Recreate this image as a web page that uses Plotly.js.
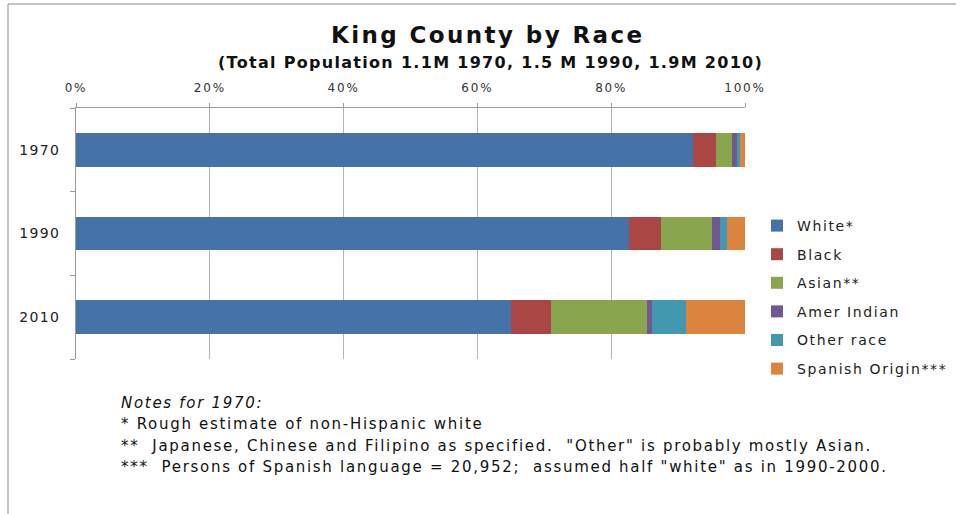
<!DOCTYPE html>
<html><head><meta charset="utf-8">
<script src="https://cdn.plot.ly/plotly-3.0.1.min.js"></script>
<style>html,body{margin:0;padding:0;background:#fff}#c{width:960px;height:514px}</style>
</head><body><div id="c"></div>
<script>
const years = ['1970', '1990', '2010'];
const seriesNames = ['White*', 'Black', 'Asian**', 'Amer Indian', 'Other race', 'Spanish Origin***'];
const white = [92.3, 82.6, 65.0];
const black = [3.4, 4.9, 6.0];
const asian = [2.4, 7.6, 14.4];
const amerIndian = [0.7, 1.2, 0.7];
const otherRace = [0.4, 1.0, 5.1];
const spanish = [0.8, 2.7, 8.8];
const xTickVals = [0, 20, 40, 60, 80, 100];
const xTickText = ['0%', '20%', '40%', '60%', '80%', '100%'];
const titleText = 'King County by Race';
const subtitleText = '(Total Population 1.1M 1970, 1.5 M 1990, 1.9M 2010)';
const notes = ['<i>Notes for 1970:</i>',
  '* Rough estimate of non-Hispanic white',
  '** &nbsp;Japanese, Chinese and Filipino as specified. &nbsp;"Other" is probably mostly Asian.',
  '*** &nbsp;Persons of Spanish language = 20,952; &nbsp;assumed half "white" as in 1990-2000.'];

const sp = (t, ls) => '<span style="letter-spacing:' + ls + 'px">' + t + '</span>';
const colors = ['#4572A7', '#AA4643', '#89A54E', '#71588F', '#4198AF', '#DB843D'];
const values = [white, black, asian, amerIndian, otherRace, spanish];
const traces = values.map((v, i) => ({
  type: 'bar', orientation: 'h', name: sp(seriesNames[i], 1.6), x: v, y: years,
  legendgroup: 'g' + i,
  marker: {color: colors[i], line: {width: 0}}, hoverinfo: 'x+name'
}));

const W = 960, H = 514, L = 76, R = 215, T = 108, B = 155;
const pw = W - L - R, ph = H - T - B;
const px = x => (x - L) / pw;
const py = y => (H - B - y) / ph;
const font = '"DejaVu Sans", Verdana, sans-serif';

const noteYs = [403, 424, 446, 467];
const annotations = [
  {text: '<b>' + sp(titleText, 2.4) + '</b>', xref: 'paper', yref: 'paper', x: px(329), y: py(35),
    xanchor: 'left', yanchor: 'middle', showarrow: false, font: {size: 23, color: '#111', family: font}},
  {text: '<b>' + sp(subtitleText, 1.3) + '</b>', xref: 'paper', yref: 'paper', x: px(216), y: py(63),
    xanchor: 'left', yanchor: 'middle', showarrow: false, font: {size: 16, color: '#111', family: font}}
];
notes.forEach((n, i) => annotations.push({
  text: sp(n, 1.7), xref: 'paper', yref: 'paper', x: px(119), y: py(noteYs[i]),
  xanchor: 'left', yanchor: 'middle', align: 'left', showarrow: false,
  font: {size: 15, color: '#111', family: font}
}));

const layout = {
  width: W, height: H, margin: {l: L, r: R, t: T, b: B, autoexpand: false},
  paper_bgcolor: '#fff', plot_bgcolor: '#fff',
  barmode: 'stack', bargap: 0.6, showlegend: true,
  font: {family: font, color: '#333'},
  xaxis: {side: 'top', range: [0, 100], tickvals: xTickVals, ticktext: xTickText.map(t => sp(t, 1.8)),
    showgrid: true, gridcolor: '#b4b4b4', gridwidth: 1, zeroline: false,
    showline: true, linecolor: '#9a9a9a', ticks: 'outside', ticklen: 4, tickcolor: '#9a9a9a',
    ticklabelstandoff: 6, automargin: false,
    tickfont: {size: 12, color: '#333', family: font}, fixedrange: true},
  yaxis: {type: 'category', autorange: 'reversed', showgrid: false, zeroline: false,
    showline: true, linecolor: '#9a9a9a', ticks: 'outside', tickson: 'boundaries', ticklen: 5,
    tickcolor: '#9a9a9a', tickfont: {size: 14, color: '#222', family: font}, ticklabelstandoff: 12,
    automargin: false,
    tickmode: 'array', tickvals: years, ticktext: years.map(t => sp(t, 1.3)), fixedrange: true},
  legend: {x: px(757), y: py(210), xanchor: 'left', yanchor: 'top', traceorder: 'grouped',
    font: {size: 14, color: '#222', family: font}, tracegroupgap: 7.4, itemwidth: 30,
    bgcolor: 'rgba(0,0,0,0)'},
  annotations: annotations,
  shapes: [
    {type: 'line', xref: 'paper', yref: 'paper', x0: px(8), x1: px(956), y0: py(4), y1: py(4),
      line: {color: '#8a8a8a', width: 1}, layer: 'below'},
    {type: 'line', xref: 'paper', yref: 'paper', x0: px(8), x1: px(8), y0: py(4), y1: py(514),
      line: {color: '#8a8a8a', width: 1}, layer: 'below'}
  ]
};
Plotly.newPlot('c', traces, layout, {displayModeBar: false, staticPlot: true});
</script></body></html>
